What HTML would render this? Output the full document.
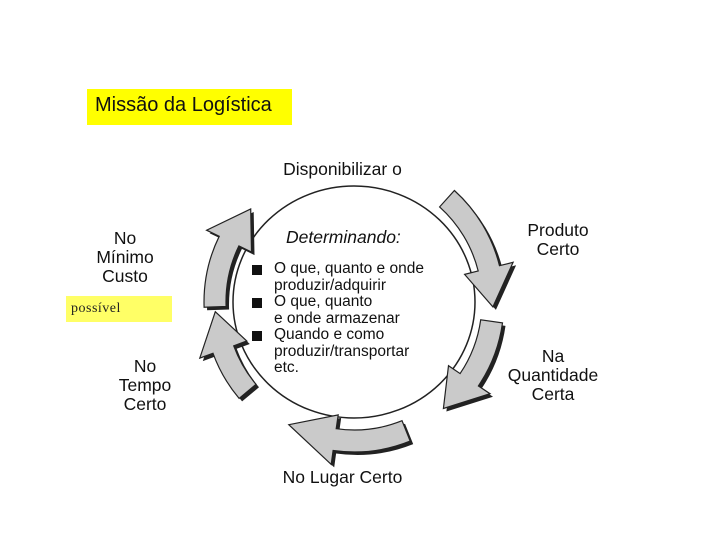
<!DOCTYPE html>
<html><head><meta charset="utf-8"><style>
body{margin:0;width:720px;height:540px;background:#fff;position:relative;overflow:hidden;font-family:"Liberation Sans",sans-serif}
.t{position:absolute;color:#111;font-size:17.5px;text-align:center;line-height:19px}
</style></head><body>
<div style="position:absolute;left:87px;top:89px;width:205px;height:36px;background:#ffff00"></div>
<div style="position:absolute;left:95px;top:94px;font-size:20px;color:#111">Missão da Logística</div>
<div style="position:absolute;left:66px;top:296px;width:106px;height:26px;background:#ffff66"></div>
<div style="position:absolute;left:71px;top:301px;font-family:'Liberation Serif',serif;font-size:14px;color:#222;letter-spacing:0.5px">possível</div>
<svg width="720" height="540" style="position:absolute;left:0;top:0">
<defs>
<g id="arrows">
<path d="M454.4,190.5 A150,150 0 0 1 499.5,265.7 L513.1,262.3 L492.9,306.9 L464.6,274.4 L478.2,271.0 A128,128 0 0 0 439.6,206.9 Z"/>
<path d="M502.5,322.9 A150,150 0 0 1 478.4,385.9 L490.0,393.7 L443.4,408.5 L448.5,365.7 L460.1,373.6 A128,128 0 0 0 480.7,319.8 Z"/>
<path d="M410.2,441.1 A150,150 0 0 1 333.1,450.5 L331.2,464.4 L288.8,424.7 L338.2,414.9 L336.2,428.7 A128,128 0 0 0 402.0,420.7 Z"/>
<path d="M239.1,398.4 A150,150 0 0 1 213.0,353.3 L199.8,358.1 L215.3,311.7 L246.8,341.0 L233.7,345.8 A128,128 0 0 0 256.0,384.3 Z"/>
<path d="M204.1,307.2 A150,150 0 0 1 219.2,236.3 L206.6,230.2 L250.7,209.0 L251.5,252.1 L238.9,245.9 A128,128 0 0 0 226.1,306.5 Z"/>
</g>
</defs>
<ellipse cx="354" cy="302" rx="121" ry="116" fill="#fff" stroke="#222" stroke-width="1.5"/>
<use href="#arrows" transform="translate(3,3)" fill="#222"/>
<use href="#arrows" fill="#cacaca" stroke="#222" stroke-width="1.2"/>
<g fill="#111"><rect x="252" y="265" width="10" height="10"/><rect x="252" y="298" width="10" height="10"/><rect x="252" y="331" width="10" height="10"/></g>
</svg>
<div class="t" style="left:260px;top:160px;width:165px">Disponibilizar o</div>
<div class="t" style="left:260px;top:468px;width:165px">No Lugar Certo</div>
<div class="t" style="left:503px;top:221px;width:110px">Produto<br>Certo</div>
<div class="t" style="left:498px;top:347px;width:110px">Na<br>Quantidade<br>Certa</div>
<div class="t" style="left:85px;top:229px;width:80px">No<br>Mínimo<br>Custo</div>
<div class="t" style="left:105px;top:357px;width:80px">No<br>Tempo<br>Certo</div>
<div class="t" style="left:286px;top:228px;font-style:italic;text-align:left">Determinando:</div>
<div class="t" style="left:274px;top:261px;font-size:15.5px;line-height:16.5px;text-align:left">O que, quanto e onde<br>produzir/adquirir<br>O que, quanto<br>e onde armazenar<br>Quando e como<br>produzir/transportar<br>etc.</div>
</body></html>
